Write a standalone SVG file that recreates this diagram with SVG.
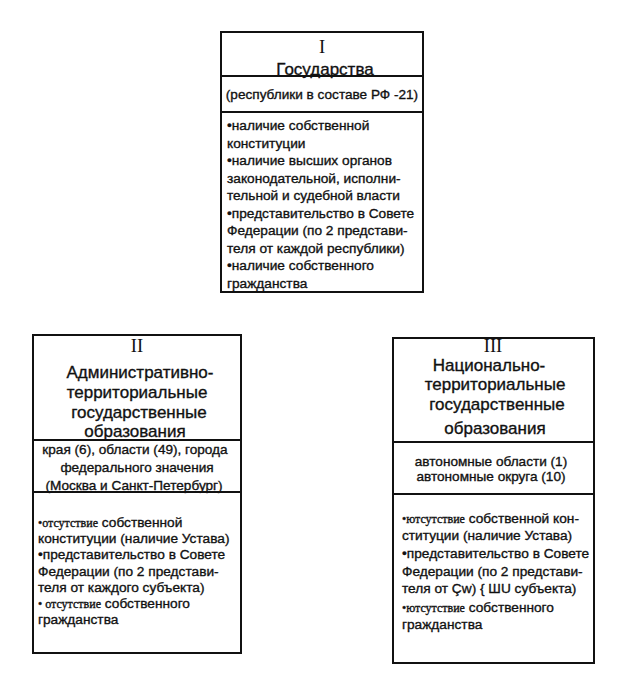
<svg xmlns="http://www.w3.org/2000/svg" width="623" height="676" viewBox="0 0 623 676">
<style>
.box{fill:#fff;stroke:#111;stroke-width:2}
.div{stroke:#111;stroke-width:2.2}
.t{font-family:"Liberation Sans",Arial,sans-serif;fill:#111;stroke:#111;stroke-width:0.35}
.num{font-family:"Liberation Serif","Times New Roman",serif;font-size:18.5px;fill:#111;text-anchor:middle}
.h{font-size:17px;text-anchor:middle}
.m{font-size:13.6px;text-anchor:middle}
.b{font-size:13.7px}
.s{font-family:"Liberation Serif","Times New Roman",serif;font-size:12px}
</style>
<rect width="623" height="676" fill="#fff"/>
<g id="node-1">
<rect class="box" x="221" y="32" width="202" height="260"/>
<line class="div" x1="221" y1="76" x2="423" y2="76"/>
<line class="div" x1="221" y1="112" x2="423" y2="112"/>
<text class="num" x="322" y="53">I</text>
<text class="t h" x="325" y="75">Государства</text>
<text class="t m" x="322" y="99">(республики в составе РФ -21)</text>
<text class="t b"><tspan x="227" y="130">•наличие собственной</tspan><tspan x="227" y="148">конституции</tspan><tspan x="227" y="165">•наличие высших органов</tspan><tspan x="227" y="183">законодательной, исполни-</tspan><tspan x="227" y="200">тельной и судебной власти</tspan><tspan x="227" y="218">•представительство в Совете</tspan><tspan x="227" y="235">Федерации (по 2 представи-</tspan><tspan x="227" y="253">теля от каждой республики)</tspan><tspan x="227" y="270">•наличие собственного</tspan><tspan x="227" y="288">гражданства</tspan></text>
</g>
<g id="node-2">
<rect class="box" x="33" y="335" width="208" height="318"/>
<line class="div" x1="33" y1="440" x2="241" y2="440"/>
<line class="div" x1="33" y1="492" x2="241" y2="492"/>
<text class="num" x="137" y="352">II</text>
<text class="t h"><tspan x="140" y="378">Административно-</tspan><tspan x="137" y="398">территориальные</tspan><tspan x="139" y="418">государственные</tspan><tspan x="135" y="437">образования</tspan></text>
<text class="t m"><tspan x="135" y="454">края (6), области (49), города</tspan><tspan x="137" y="472">федерального значения</tspan><tspan x="134" y="490">(Москва и Санкт-Петербург)</tspan></text>
<text class="t b"><tspan x="38" y="527"><tspan class="s">•отсутствие</tspan> собственной</tspan><tspan x="38" y="543">конституции (наличие Устава)</tspan><tspan x="38" y="559">•представительство в Совете</tspan><tspan x="38" y="576">Федерации (по 2 представи-</tspan><tspan x="38" y="592">теля от каждого субъекта)</tspan><tspan x="38" y="608"><tspan class="s">• отсутствие</tspan>  собственного</tspan><tspan x="38" y="624">гражданства</tspan></text>
</g>
<g id="node-3">
<rect class="box" x="393" y="338" width="201" height="325"/>
<line class="div" x1="393" y1="442" x2="594" y2="442"/>
<line class="div" x1="393" y1="494" x2="594" y2="494"/>
<text class="num" x="493" y="352">III</text>
<text class="t h"><tspan x="489" y="371">Национально-</tspan><tspan x="495" y="390">территориальные</tspan><tspan x="497" y="410">государственные</tspan><tspan x="495" y="434">образования</tspan></text>
<text class="t m"><tspan x="491" y="466">автономные области (1)</tspan><tspan x="491" y="481">автономные округа (10)</tspan></text>
<text class="t b"><tspan x="402" y="523"><tspan class="s">•ютсутствие</tspan> собственной кон-</tspan><tspan x="402" y="540">ституции (наличие Устава)</tspan><tspan x="402" y="558">•представительство в Совете</tspan><tspan x="402" y="576">Федерации (по 2 представи-</tspan><tspan x="402" y="593">теля от Çw) { ШU субъекта)</tspan><tspan x="402" y="612"><tspan class="s">•ютсутствие</tspan> собственного</tspan><tspan x="402" y="629">гражданства</tspan></text>
</g>
<g id="connectors"></g>
</svg>
